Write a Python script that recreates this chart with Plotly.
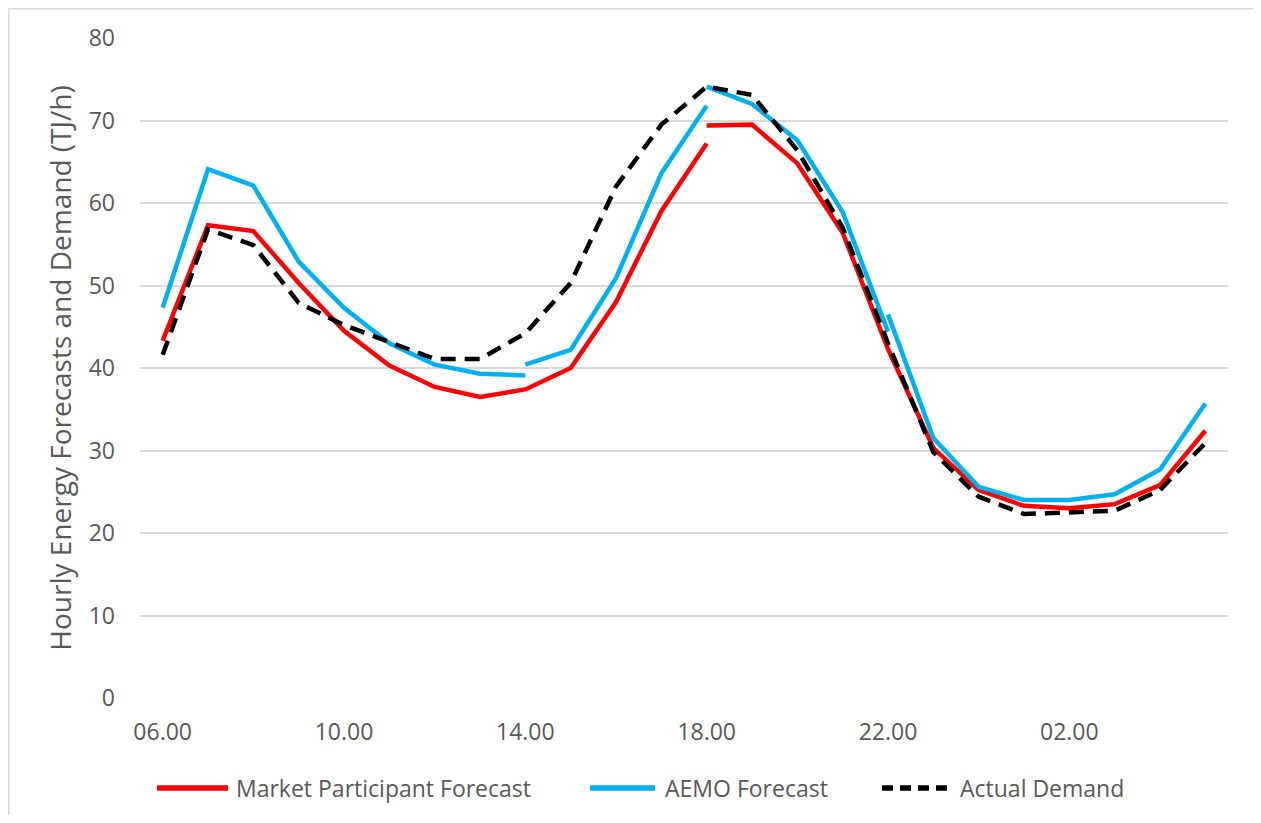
import plotly.graph_objects as go

hours = ["06.00", "07.00", "08.00", "09.00", "10.00", "11.00", "12.00", "13.00",
         "14.00", "15.00", "16.00", "17.00", "18.00", "19.00", "20.00", "21.00",
         "22.00", "23.00", "00.00", "01.00", "02.00", "03.00", "04.00", "05.00"]
tick_labels = ["06.00", "10.00", "14.00", "18.00", "22.00", "02.00"]

# Market participant forecast: two schedules (06.00-18.00, 18.00-05.00)
mp_sched1 = [43.3, 57.3, 56.6, 50.3, 44.5, 40.3, 37.7, 36.5, 37.4, 40.0, 48.0, 59.0, 67.2]
mp_sched2 = [69.4, 69.5, 64.8, 56.4, 42.3, 30.3, 25.2, 23.3, 23.0, 23.5, 25.8, 32.4]

# AEMO forecast: four schedules (06-14, 14-18, 18-22, 22-05)
aemo_sched1 = [47.3, 64.1, 62.1, 52.9, 47.3, 43.0, 40.4, 39.3, 39.1]
aemo_sched2 = [40.4, 42.2, 50.9, 63.6, 71.8]
aemo_sched3 = [74.1, 72.0, 67.6, 58.9, 44.4]
aemo_sched4 = [46.5, 31.5, 25.6, 24.0, 24.0, 24.7, 27.7, 35.7]

actual = [41.6, 56.8, 54.9, 47.9, 45.2, 43.1, 41.1, 41.1, 44.2, 50.3, 62.0, 69.5,
          74.1, 73.1, 66.4, 57.0, 43.0, 29.8, 24.4, 22.3, 22.5, 22.7, 25.2, 30.9]

series_names = ["Market Participant Forecast", "AEMO Forecast", "Actual Demand"]
series_colors = ["#FF0000", "#00B0F0", "#000000"]


def join_segments(segments, starts):
    xs, ys = [], []
    for i, (seg, s) in enumerate(zip(segments, starts)):
        if i > 0:
            xs.append(None)
            ys.append(None)
        xs.extend(range(s, s + len(seg)))
        ys.extend(seg)
    return xs, ys


mp_x, mp_y = join_segments([mp_sched1, mp_sched2], [0, 12])
ae_x, ae_y = join_segments([aemo_sched1, aemo_sched2, aemo_sched3, aemo_sched4], [0, 8, 12, 16])
act_x = list(range(len(actual)))

DASH = "15px,9px"
LW = 4.5
FONT = "Open Sans, sans-serif"
TXT = "#595959"

fig = go.Figure()
fig.add_trace(go.Scatter(x=mp_x, y=mp_y, mode="lines", name=series_names[0],
                         line=dict(color=series_colors[0], width=LW), connectgaps=False))
fig.add_trace(go.Scatter(x=ae_x, y=ae_y, mode="lines", name=series_names[1],
                         line=dict(color=series_colors[1], width=LW), connectgaps=False))
fig.add_trace(go.Scatter(x=act_x, y=actual, mode="lines", name=series_names[2],
                         line=dict(color=series_colors[2], width=LW, dash=DASH)))

tick_vals = [hours.index(t) for t in tick_labels]

# The page body has an 8px margin; the plot area is placed at page px 140..1228 x 38..698
PX0, PX1, PY0, PY1 = 140, 1228, 38, 698


def px_to_paper_x(px):
    return (px - PX0) / (PX1 - PX0)


def px_to_paper_y(py):
    return (PY1 - py) / (PY1 - PY0)


fig.update_layout(
    width=1245, height=807,
    margin=dict(l=132, r=25, t=30, b=117),
    paper_bgcolor="white", plot_bgcolor="white",
    font=dict(family=FONT, color=TXT),
    showlegend=False,
    xaxis=dict(range=[-0.5, 23.5], tickmode="array", tickvals=tick_vals, ticktext=tick_labels,
               showgrid=False, zeroline=False, showline=False, ticks="",
               tickfont=dict(size=23, family=FONT, color=TXT),
               ticklabelstandoff=18),
    yaxis=dict(range=[0, 80], tickvals=list(range(0, 81, 10)), showgrid=True,
               gridcolor="#D9D9D9", gridwidth=1.5, zeroline=False, showline=False, ticks="",
               tickfont=dict(size=23, family=FONT, color=TXT),
               ticklabelstandoff=24,
               title=dict(text="Hourly Energy Forecasts and Demand (TJ/h)",
                          font=dict(size=28, family=FONT, color=TXT),
                          standoff=8)),
)

# manual legend (line samples + labels)
legend_y = 788
legend_items = [(157, 228, 234), (590, 655, 663), (882, 947, 958)]
for (x0, x1, tx), name, col, dash in zip(legend_items, series_names, series_colors,
                                         ["solid", "solid", "11px,7px"]):
    fig.add_shape(type="line", xref="paper", yref="paper",
                  x0=px_to_paper_x(x0), x1=px_to_paper_x(x1),
                  y0=px_to_paper_y(legend_y), y1=px_to_paper_y(legend_y),
                  line=dict(color=col, width=LW + 1, dash=dash))
    fig.add_annotation(xref="paper", yref="paper", x=px_to_paper_x(tx), y=px_to_paper_y(legend_y),
                       text=name, showarrow=False, xanchor="left", yanchor="middle",
                       font=dict(size=23, family=FONT, color=TXT))

# chart border (top and left edges visible)
fig.add_shape(type="line", xref="paper", yref="paper",
              x0=px_to_paper_x(8.75), x1=px_to_paper_x(1300),
              y0=px_to_paper_y(8.75), y1=px_to_paper_y(8.75),
              line=dict(color="#D9D9D9", width=1.5), layer="below")
fig.add_shape(type="line", xref="paper", yref="paper",
              x0=px_to_paper_x(8.75), x1=px_to_paper_x(8.75),
              y0=px_to_paper_y(8.75), y1=px_to_paper_y(900),
              line=dict(color="#D9D9D9", width=1.5), layer="below")

fig.write_html("out.html")
